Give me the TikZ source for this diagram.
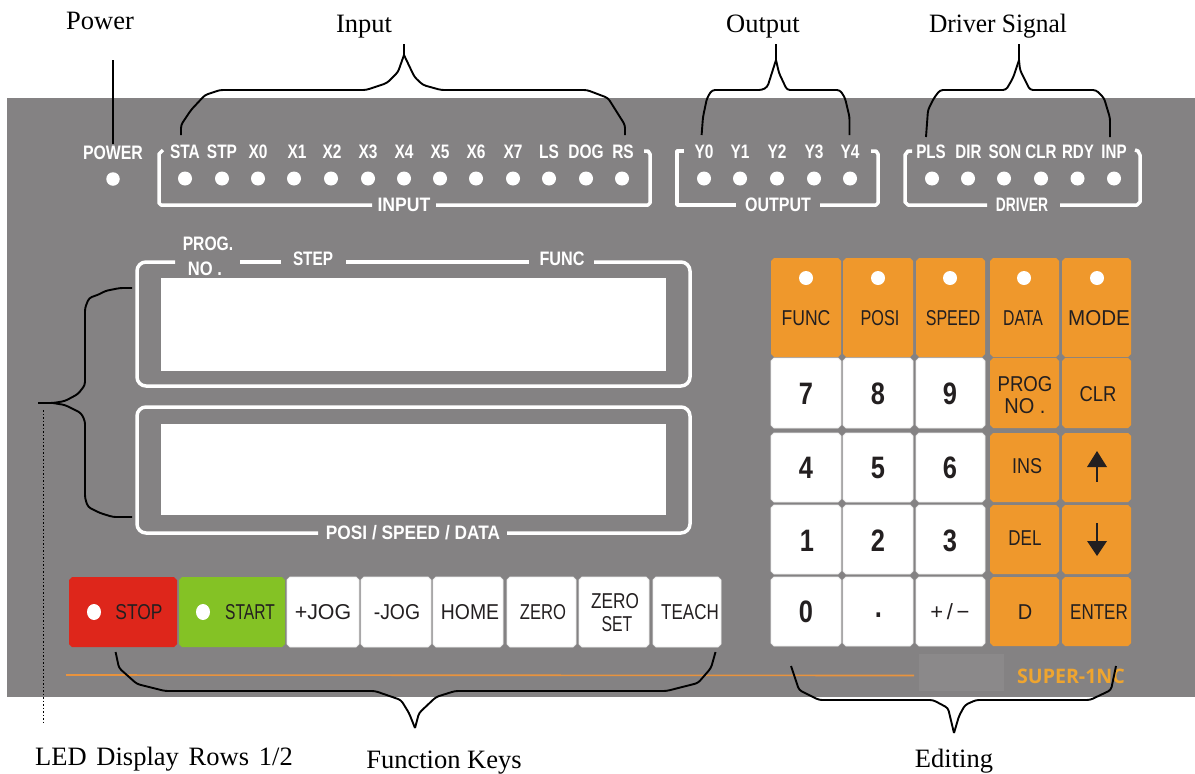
\documentclass[tikz,border=0pt]{standalone}
\usepackage{fontspec}
\usepackage{graphicx}
\usetikzlibrary{shapes.geometric}
\setmainfont{Liberation Serif}
\newfontfamily\panelsans{Liberation Sans}
\newfontfamily\brandsans{Open Sans}
\definecolor{panelgrey}{HTML}{848283}
\definecolor{patchgrey}{HTML}{8B898A}
\definecolor{keyorange}{HTML}{EF982C}
\definecolor{keyred}{HTML}{DE261B}
\definecolor{keygreen}{HTML}{84C225}
\definecolor{keyink}{HTML}{231F20}
\definecolor{lineorange}{HTML}{E8933E}
\definecolor{brandorange}{HTML}{EFA52F}
\tikzset{
  caption/.style={font=\fontsize{26.5}{26.5}\selectfont, anchor=base, inner sep=0pt, text=black},
  plabel/.style={font=\panelsans\bfseries\fontsize{19.5}{19.5}\selectfont, text=white, inner sep=0pt},
  keytext/.style={font=\panelsans\fontsize{21.5}{21.5}\selectfont, text=keyink, inner sep=0pt},
  digit/.style={font=\panelsans\bfseries\fontsize{31}{31}\selectfont, text=keyink, inner sep=0pt},
  led/.style={circle, fill=white, minimum size=14pt, inner sep=0pt},
  whiteline/.style={draw=white, line width=3.5pt, line join=round},
  brace/.style={draw=black, line width=1.9pt, line join=round, rounded corners=3pt},
  whitekey/.style={fill=white, draw=white!85!gray, line width=0.8pt},
  orangekey/.style={fill=keyorange},
  redkey/.style={fill=keyred},
  greenkey/.style={fill=keygreen}
}
\newcommand\keyshape[5]{%
  \path[#5] ({#1+3},#3) -- ({#2-3},#3) -- (#2,{#3+3}) -- (#2,{#4-3}) -- ({#2-3},#4)
    -- ({#1+3},#4) -- (#1,{#4-3}) -- (#1,{#3+3}) -- cycle;}
\newcommand\plab[5]{\node[plabel] (#1) at (#2,#3) {\scalebox{#4}[1]{\scalebox{0.923}[1]{#5}}};}
\newcommand\ktext[5]{\node[keytext] (#1) at (#2,#3) {\scalebox{#4}[1]{\scalebox{0.93}[1]{#5}}};}
\newcommand\dtext[4]{\node[digit] (#1) at (#2,#3) {\scalebox{0.82}[1]{#4}};}
\begin{document}
\begin{tikzpicture}[x=1pt,y=-1pt]
\useasboundingbox (0,0) rectangle (1195,774);
% panel
\fill[panelgrey] (7,98) rectangle (1195,697);
\fill[patchgrey] (919,654) rectangle (1004,691);
\draw[lineorange, line width=1.6pt] (66,675) -- (914,675.5);
\node[inner sep=0pt, text=brandorange, font=\brandsans\bfseries\fontsize{20}{20}\selectfont] (brand) at (1071,676) {\scalebox{0.98}[1]{SUPER-1NC}};
% power
\plab{powerlab}{113}{153}{0.88}{POWER}
\node[led, minimum size=13.5pt] (ledpower) at (113,179) {};
% input
\foreach \n/\x/\lx/\t in {a/185/185/STA,b/222/222/STP,c/258/258/X0,d/294/297/X1,e/331/332/X2,f/368/368/X3,g/404/404/X4,h/440/440/X5,i/476/476/X6,j/513/513/X7,k/549/549/LS,l/586/586/DOG,m/622/623/RS}{
  \plab{in\n}{\lx}{152}{0.86}{\t}
  \node[led] (inled\n) at (\x,178.5) {};
}
\draw[whiteline] (163,150) -- (159,154) -- (159,203) -- (161,205) -- (372,205);
\draw[whiteline] (436,205) -- (648,205) -- (650,203) -- (650,154) -- (648,151) -- (644,151);
\plab{inputlab}{404}{205}{0.98}{INPUT}
% output
\foreach \n/\x/\t in {a/704/Y0,b/740/Y1,c/777/Y2,d/814/Y3,e/850/Y4}{
  \plab{out\n}{\x}{152}{0.86}{\t}
  \node[led] (outled\n) at (\x,178.5) {};
}
\draw[whiteline] (684,151) -- (677,151) -- (677,205) -- (736,205);
\draw[whiteline] (820,205) -- (876,205) -- (878,203) -- (878,154) -- (876,151) -- (871,151);
\plab{outputlab}{778}{205}{0.89}{OUTPUT}
% driver
\foreach \n/\x/\lx/\t in {a/932/931/PLS,b/968/968.5/DIR,c/1004/1005/SON,d/1041/1041/CLR,e/1077.5/1078/RDY,f/1114/1114/INP}{
  \plab{drv\n}{\lx}{152}{0.84}{\t}
  \node[led] (drvled\n) at (\x,178.5) {};
}
\draw[whiteline] (912,151) -- (908,151) -- (905,155) -- (905,202) -- (908,205) -- (987,205);
\draw[whiteline] (1060,205) -- (1137,205) -- (1140,202) -- (1140,155) -- (1138,151) -- (1135,150);
\plab{driverlab}{1022}{205}{0.77}{DRIVER}
% displays
\fill[white] (161,278) rectangle (666,371);
\fill[white] (161,424) rectangle (666,515);
\draw[whiteline, rounded corners=9pt] (175,262) -- (137,262) -- (137,386) -- (690,386) -- (690,262) -- (594,262);
\draw[whiteline] (240,262) -- (281,262);
\draw[whiteline] (346,262) -- (529,262);
\draw[whiteline, rounded corners=9pt] (318,533) -- (137,533) -- (137,407) -- (690,407) -- (690,533) -- (507,533);
\plab{proglab}{208}{244}{0.87}{PROG.}
\plab{nolab}{205}{269}{0.92}{NO .}
\plab{steplab}{313}{259}{0.85}{STEP}
\plab{funclab}{562}{259}{0.9}{FUNC}
\plab{posilab}{413}{533}{0.96}{POSI / SPEED / DATA}
% function keys
\keyshape{69}{177}{577}{647}{redkey}
\keyshape{179}{285}{577}{647}{greenkey}
\keyshape{287}{359}{577}{647}{whitekey}
\keyshape{361}{431}{577}{647}{whitekey}
\keyshape{433}{503}{577}{647}{whitekey}
\keyshape{507}{576}{577}{647}{whitekey}
\keyshape{579}{649}{577}{647}{whitekey}
\keyshape{653}{721}{577}{647}{whitekey}
\node[ellipse, fill=white, minimum width=14pt, minimum height=16pt, inner sep=0pt] (ledstop) at (94,612) {};
\node[ellipse, fill=white, minimum width=14pt, minimum height=16pt, inner sep=0pt] (ledstart) at (203,612) {};
\ktext{kstop}{139}{612}{0.87}{STOP}
\ktext{kstart}{250}{612}{0.78}{START}
\ktext{kjogp}{323}{612}{1.07}{+JOG}
\ktext{kjogm}{397}{612}{0.97}{-JOG}
\ktext{khome}{470}{612}{0.97}{HOME}
\ktext{kzero}{543}{612}{0.83}{ZERO}
\ktext{kzs}{615}{601}{0.86}{ZERO}
\ktext{kset}{617}{624}{0.79}{SET}
\ktext{kteach}{690}{612}{0.85}{TEACH}
% keypad
\foreach \a/\b/\y/\z in {771/841/258/357,843/913/258/357,916/985/258/357,990/1059/258/357,1062/1131/258/357,
  990/1059/358/428,1062/1131/358/428,990/1059/433/502,1062/1131/433/502,990/1059/505/574,1062/1131/505/574,990/1059/577/646,1062/1131/577/646}{
  \keyshape{\a}{\b}{\y}{\z}{orangekey}
}
\foreach \a/\b in {771/841,843/913,916/985}{
  \foreach \y/\z in {358/428,433/502,505/574,577/646}{
    \keyshape{\a}{\b}{\y}{\z}{whitekey}
  }
}
\foreach \n/\x in {a/806,b/878,c/950,d/1024,e/1097}{
  \node[led] (keyled\n) at (\x,278) {};
}
\ktext{kfunc}{806}{318}{0.88}{FUNC}
\ktext{kposi}{880}{318}{0.81}{POSI}
\ktext{kspeed}{953}{318}{0.8}{SPEED}
\ktext{kdata}{1023}{318}{0.79}{DATA}
\ktext{kmode}{1099}{318}{1.03}{MODE}
\dtext{d7}{806}{394}{7}
\dtext{d8}{878}{394}{8}
\dtext{d9}{950}{394}{9}
\dtext{d4}{806}{468}{4}
\dtext{d5}{878}{468}{5}
\dtext{d6}{950}{468}{6}
\dtext{d1}{807}{541}{1}
\dtext{d2}{878}{541}{2}
\dtext{d3}{950}{541}{3}
\dtext{d0}{806}{612}{0}
\dtext{ddot}{879}{619}{·}
\node[keytext, font=\panelsans\fontsize{22}{22}\selectfont] (kpm) at (950,612) {+\,/\,−};
\ktext{kprog}{1025}{384}{0.93}{PROG}
\ktext{kno}{1025}{406}{1}{NO .}
\ktext{kclr}{1098}{394}{0.92}{CLR}
\ktext{kins}{1027}{466}{0.9}{INS}
\ktext{kdel}{1025}{538}{0.85}{DEL}
\ktext{kd}{1025}{612}{1}{D}
\ktext{kenter}{1099}{612}{0.85}{ENTER}
\fill[keyink] (1097,451) -- (1107,467) -- (1087,467) -- cycle;
\draw[keyink, line width=1.7pt] (1097,466) -- (1097,482);
\fill[keyink] (1097,556) -- (1107,541) -- (1087,541) -- cycle;
\draw[keyink, line width=1.7pt] (1097,523) -- (1097,542);
% captions
\node[caption] (capPower) at (100,29) {Power};
\node[caption] (capInput) at (364,32) {Input};
\node[caption] (capOutput) at (763,32) {Output};
\node[caption] (capDriver) at (998,32) {\scalebox{0.96}[1]{Driver Signal}};
\node[caption, anchor=base west] (capLed) at (35,765) {LED\hspace{0.12em} Display\hspace{0.12em} Rows\hspace{0.12em} 1/2};
\node[caption] (capFunc) at (444,768) {Function Keys};
\node[caption] (capEdit) at (954,767) {Editing};
% leaders and braces
\coordinate (powerTop) at (113,60);
\coordinate (powerEnd) at (113,144);
\draw[black, line width=1.5pt] (powerTop) -- (powerEnd);
\coordinate (inputStem) at (404,44);
\draw[brace] (181,135) -- (181,125) -- (191,110) -- (205,95) -- (220,90) -- (366,90) -- (387,83) -- (398,72) -- (404,55);
\draw[brace] (404,55) -- (414.5,77) -- (423,85) -- (441,90) -- (587,90) -- (608,98) -- (625,125) -- (625,135);
\draw[brace] (404,55) -- (inputStem);
\coordinate (outputStem) at (776,44);
\draw[brace] (701.6,135) -- (703,117) -- (707,98) -- (712,90) -- (762,90) -- (767.4,87) -- (776,60);
\draw[brace] (776,60) -- (779,73) -- (787,90) -- (840,90) -- (845,98) -- (849.5,117) -- (849.5,135);
\draw[brace] (776,60) -- (outputStem);
\coordinate (driverStem) at (1019,44);
\draw[brace] (926,137) -- (928,110) -- (934,98) -- (940,90) -- (1006,90) -- (1013,78) -- (1019,60);
\draw[brace] (1019,60) -- (1020,70) -- (1030,90) -- (1096,90) -- (1104,98) -- (1110,118) -- (1110,137);
\draw[brace] (1019,60) -- (driverStem);
\coordinate (funcTip) at (415,728);
\draw[brace] (115.6,652) -- (119,668) -- (137,684) -- (165,691) -- (375,691) -- (401,700) -- (409,713) -- (funcTip);
\draw[brace] (funcTip) -- (419,713) -- (436,697) -- (455,691) -- (666.5,691) -- (698,683) -- (711,668) -- (715.5,652);
\coordinate (editTip) at (954,733);
\draw[brace] (791,666) -- (799,690) -- (819,700) -- (933,700) -- (948,708) -- (editTip);
\draw[brace] (editTip) -- (959,716) -- (965,705) -- (976,700) -- (1090,700) -- (1111,690) -- (1116,666);
\coordinate (ledTip) at (38,403);
\draw[brace] (132,288) -- (120,288) -- (105,291) -- (100,294) -- (89,298) -- (85,308) -- (85,385) -- (78,394) -- (65,401) -- (53,403) -- (ledTip);
\draw[brace] (53,403) -- (65,405) -- (81,413) -- (85,421) -- (85,498) -- (88,507) -- (100,513) -- (113,517) -- (132,517);
\coordinate (dotTop) at (43.5,410);
\coordinate (dotEnd) at (43.5,723);
\draw[black, line width=1.5pt, dash pattern=on 1.5pt off 2pt] (dotTop) -- (dotEnd);
\end{tikzpicture}
\end{document}
